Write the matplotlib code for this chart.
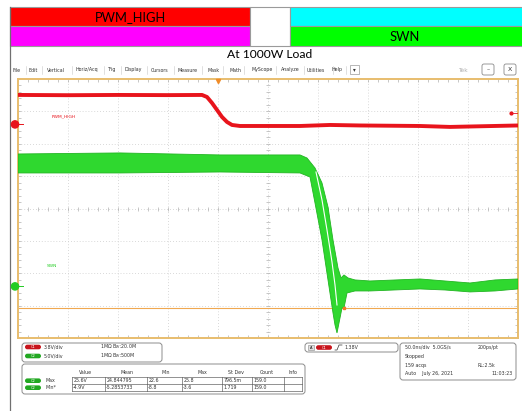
import matplotlib as mpl
mpl.use('Agg')
import matplotlib.pyplot as plt
from matplotlib.patches import Rectangle, FancyBboxPatch, Circle, Polygon
from matplotlib.collections import LineCollection

# channel settings (V/div, position in div)
ch1_scale, ch1_pos = 3.8, 2.6
ch2_scale, ch2_pos = 5.0, -2.4
trig_time = -50.0      # ns
trig_level = 1.38      # V on ch1
cursor_level = -3.33   # V on ch2

# PWM_HIGH (ch1): time in ns, volts
pwm_t = [-250, -200, -150, -100, -66, -61, -56, -51, -46, -41, -36, -28,
         32, 62, 92, 152, 182, 202, 250]
pwm_v = [3.45, 3.42, 3.45, 3.43, 3.45, 3.21, 2.51, 1.69, 0.87, 0.28, -0.07, -0.19,
         -0.19, -0.07, -0.13, -0.19, -0.30, -0.25, -0.13]

# SWN (ch2): outline of the persistence band, upper edge then lower edge back
swn_t = [-250, -148, -48, 32, 39, 47, 54, 60, 65, 70, 73, 76, 80, 87, 102, 152,
         177, 202, 227, 250,
         250, 227, 202, 177, 152, 102, 87, 79, 76, 74, 72, 69, 67, 65, 60, 54,
         47, 42, 32, -48, -148, -250]
swn_v = [20.43, 20.59, 20.28, 20.28, 19.81, 18.27, 15.96, 12.25, 7.16, 2.84,
         1.30, 1.76, 1.30, 0.99, 0.83, 1.14, 0.83, 0.52, 0.99, 1.14,
         -0.40, -0.71, -0.86, -0.56, -0.40, -0.71, -0.71, -1.02, -3.33, -3.33,
         -4.88, -7.19, -5.96, -4.10, 0.99, 7.16, 12.87, 16.88, 17.50, 17.65,
         17.50, 17.50]
# gap between the two edge groups on the falling edge
gap_t = [48, 54, 59, 64, 67, 69]
gap_v = [17.65, 13.33, 8.70, 3.76, 0.22, -2.87]

menu_items = ['File', 'Edit', 'Vertical', 'Horiz/Acq', 'Trig', 'Display', 'Cursors',
              'Measure', 'Mask', 'Math', 'MyScope', 'Analyze', 'Utilities', 'Help']
menu_x = [17, 33, 56, 87, 112, 133, 160, 188, 214, 235, 262, 290, 316, 337]

meas_cols = ['Value', 'Mean', 'Min', 'Max', 'St Dev', 'Count', 'Info']
meas_rows = ['Max', 'Min*']
meas_vals = [['25.6V', '24.844795', '22.6', '25.8', '796.5m', '159.0', ''],
             ['-4.9V', '-5.2853733', '-8.8', '-3.6', '1.719', '159.0', '']]


def to_div(v, scale, pos):
    return [x / scale + pos for x in v]


PX = 32.4  # pixels per vertical division
TAN = '#e8bd6e'
GRID = '#cccccc'
RED = '#e8141c'
GRN = '#2fd82f'
small = dict(fontsize=3.4, family='DejaVu Sans', color='#333333')

fig = plt.figure(figsize=(5.22, 4.11), dpi=100)
fig.patch.set_facecolor('white')

# ---- scope screen ----
ax = fig.add_axes([18/522, 1 - 338.2/411, 500/522, 259.2/411])
ax.set_xlim(-250, 250)
ax.set_ylim(-4, 4)
ax.set_xticks([])
ax.set_yticks([])
for s in ax.spines.values():
    s.set_color(TAN)
    s.set_linewidth(1.4)
ax.set_zorder(1)

for x in range(-200, 250, 50):
    ax.axvline(x, color=GRID, lw=0.6, ls=(0, (1, 2.5)), zorder=0)
for y in range(-3, 4):
    ax.axhline(y, color=GRID, lw=0.6, ls=(0, (1, 2.5)), zorder=0)

segs = []
for x in range(-250, 251, 10):
    segs.append([(x, -4), (x, -4 + 3/PX)])
    segs.append([(x, 4), (x, 4 - 3/PX)])
    segs.append([(x, -2/PX), (x, 2/PX)])
for i in range(-20, 21):
    y = i * 0.2
    segs.append([(-250, y), (-247, y)])
    segs.append([(250, y), (247, y)])
    segs.append([(-2, y), (2, y)])
ax.add_collection(LineCollection(segs, colors='#b0b0b0', linewidths=0.5, zorder=0))

# cursor level on ch2
ax.axhline(cursor_level / ch2_scale + ch2_pos, color='#f0a850', lw=0.8, zorder=2)

# SWN band
swn_d = to_div(swn_v, ch2_scale, ch2_pos)
ax.add_patch(Polygon(list(zip(swn_t, swn_d)), closed=True, facecolor=GRN,
                     edgecolor='#22b522', lw=0.6, zorder=3))
ax.plot(gap_t, to_div(gap_v, ch2_scale, ch2_pos), color='white', lw=0.8, zorder=4)

# PWM_HIGH trace
ax.plot(pwm_t, to_div(pwm_v, ch1_scale, ch1_pos), color=RED, lw=2.8,
        solid_capstyle='butt', zorder=5)

# trigger position and level markers
ax.plot([trig_time], [4 - 2/PX], marker='v', ms=3, color='#f08c28', clip_on=False, zorder=6)
tl = trig_level / ch1_scale + ch1_pos
ax.plot([243], [tl], marker='o', ms=2, color=RED, zorder=6)
ax.plot([245, 250], [tl, tl], color=RED, lw=0.6, zorder=6)
ax.plot([76], [cursor_level / ch2_scale + ch2_pos], marker='s', ms=1.8,
        color='#f07828', zorder=6)

# ---- surrounding frame, header and panels (pixel coords) ----
ov = fig.add_axes([0, 0, 1, 1])
ov.set_xlim(0, 522)
ov.set_ylim(411, 0)
ov.axis('off')
ov.patch.set_alpha(0)
ov.set_zorder(2)

ov.add_patch(Rectangle((10, 7), 240, 19, facecolor='#ff0000', edgecolor='#9a9a9a', lw=0.8))
ov.add_patch(Rectangle((10, 26), 240, 20, facecolor='#ff00ff', edgecolor='#9a9a9a', lw=0.8))
ov.add_patch(Rectangle((250, 7), 40, 39, facecolor='white', edgecolor='#9a9a9a', lw=0.8))
ov.add_patch(Rectangle((290, 7), 240, 19, facecolor='#00ffff', edgecolor='#9a9a9a', lw=0.8))
ov.add_patch(Rectangle((290, 26), 240, 20, facecolor='#00ff00', edgecolor='#9a9a9a', lw=0.8))
ov.text(130, 17, 'PWM_HIGH', ha='center', va='center', fontsize=9.3, family='Lato')
ov.text(405, 37, 'SWN', ha='center', va='center', fontsize=9.3, family='Lato')
ov.text(270, 55, 'At 1000W Load', ha='center', va='center', fontsize=8.7, family='Lato')
ov.plot([10, 10], [7, 411], color='#707070', lw=0.9)

# menu bar
for name, x in zip(menu_items, menu_x):
    ov.text(x, 70, name, ha='center', va='center', **small)
    ov.plot([x + len(name) * 1.6 + 3, x + len(name) * 1.6 + 3], [66, 74], color='#c8c8c8', lw=0.4)
ov.add_patch(Rectangle((350, 65), 9, 9, facecolor='white', edgecolor='#9a9a9a', lw=0.5))
ov.text(354.5, 69.5, '\u25be', ha='center', va='center', fontsize=4, color='#333333')
ov.text(463, 70, 'Tek', ha='center', va='center', fontsize=4.2, color='#b0b0b0')
for x, s in [(488, '\u2013'), (510, 'X')]:
    ov.add_patch(FancyBboxPatch((x - 6, 64), 12, 11, boxstyle='round,pad=0,rounding_size=2',
                                facecolor='white', edgecolor='#8a8a8a', lw=0.6))
    ov.text(x, 69.5, s, ha='center', va='center', fontsize=4.5, color='#333333')

# ground markers and channel labels
for y, c in [(124.4, RED), (286.4, '#22cc22')]:
    ov.add_patch(Circle((15, y), 3.6, color=c, zorder=5))
    ov.plot([18, 23], [y, y], color=c, lw=0.7)
ov.text(52, 116, 'PWM_HIGH', color=RED, fontsize=3.2, va='center')
ov.text(47, 266, 'SWN', color='#22cc22', fontsize=3.2, va='center')


def panel(x0, y0, x1, y1):
    ov.add_patch(FancyBboxPatch((x0, y0), x1 - x0, y1 - y0,
                                boxstyle='round,pad=0,rounding_size=3',
                                facecolor='white', edgecolor='#8c8c8c', lw=0.7))


def pill(x, y, color, label):
    ov.add_patch(FancyBboxPatch((x, y - 2.3), 16, 4.6, boxstyle='round,pad=0,rounding_size=2.3',
                                facecolor=color, edgecolor='none'))
    ov.text(x + 8, y, label, ha='center', va='center', fontsize=2.6, color='white')


# channel panel
panel(22, 343, 162, 362)
pill(25, 347, '#c8141c', 'C1')
pill(25, 356, '#22a822', 'C2')
ov.text(44, 347, '3.8V/div', va='center', **small)
ov.text(44, 356, '5.0V/div', va='center', **small)
ov.text(100, 347, '1M\u03a9 B$_W$:20.0M', va='center', **small)
ov.text(100, 356, '1M\u03a9 B$_W$:500M', va='center', **small)

# measurement panel
panel(22, 364, 305, 394)
col_edges = [72, 105, 147, 182, 222, 252, 284, 302]
head_x = [86, 127, 166, 202, 236, 267, 293]
for h, x in zip(meas_cols, head_x):
    ov.text(x, 372, h, ha='center', va='center', **small)
row_y = [380.7, 387.7]
for r, y, vals in zip(meas_rows, row_y, meas_vals):
    pill(25, y, '#22a822', 'C2')
    ov.text(45, y, r, va='center', **small)
    for v, x in zip(vals, col_edges[:-1]):
        ov.text(x + 1.2, y, v, va='center', **small)
for x in col_edges:
    ov.plot([x, x], [377, 391], color='#555555', lw=0.45)
for y in [377, 384.2, 391]:
    ov.plot([72, 302], [y, y], color='#555555', lw=0.45)

# trigger panel
panel(305, 343, 398, 352)
ov.add_patch(Rectangle((308, 345), 6, 5, facecolor='#e0e0e0', edgecolor='#888888', lw=0.4))
ov.text(311, 347.5, 'A', ha='center', va='center', fontsize=2.6)
pill(316, 347.5, '#c8141c', 'C1')
ov.plot([335, 337, 339, 342], [350, 350, 345, 345], color='#333333', lw=0.5)
ov.text(344, 347.5, '%.2fV' % trig_level, va='center', **small)

# timebase panel
panel(400, 343, 516, 380)
ov.text(405, 347, '50.0ns/div  5.0GS/s', va='center', **small)
ov.text(478, 347, '200ps/pt', va='center', **small)
ov.text(405, 356.5, 'Stopped', va='center', **small)
ov.text(405, 365.5, '159 acqs', va='center', **small)
ov.text(478, 365.5, 'RL:2.5k', va='center', **small)
ov.text(405, 373.5, 'Auto    July 26, 2021', va='center', **small)
ov.text(513, 373.5, '11:03:23', ha='right', va='center', **small)

fig.savefig('out.png', dpi=100)
